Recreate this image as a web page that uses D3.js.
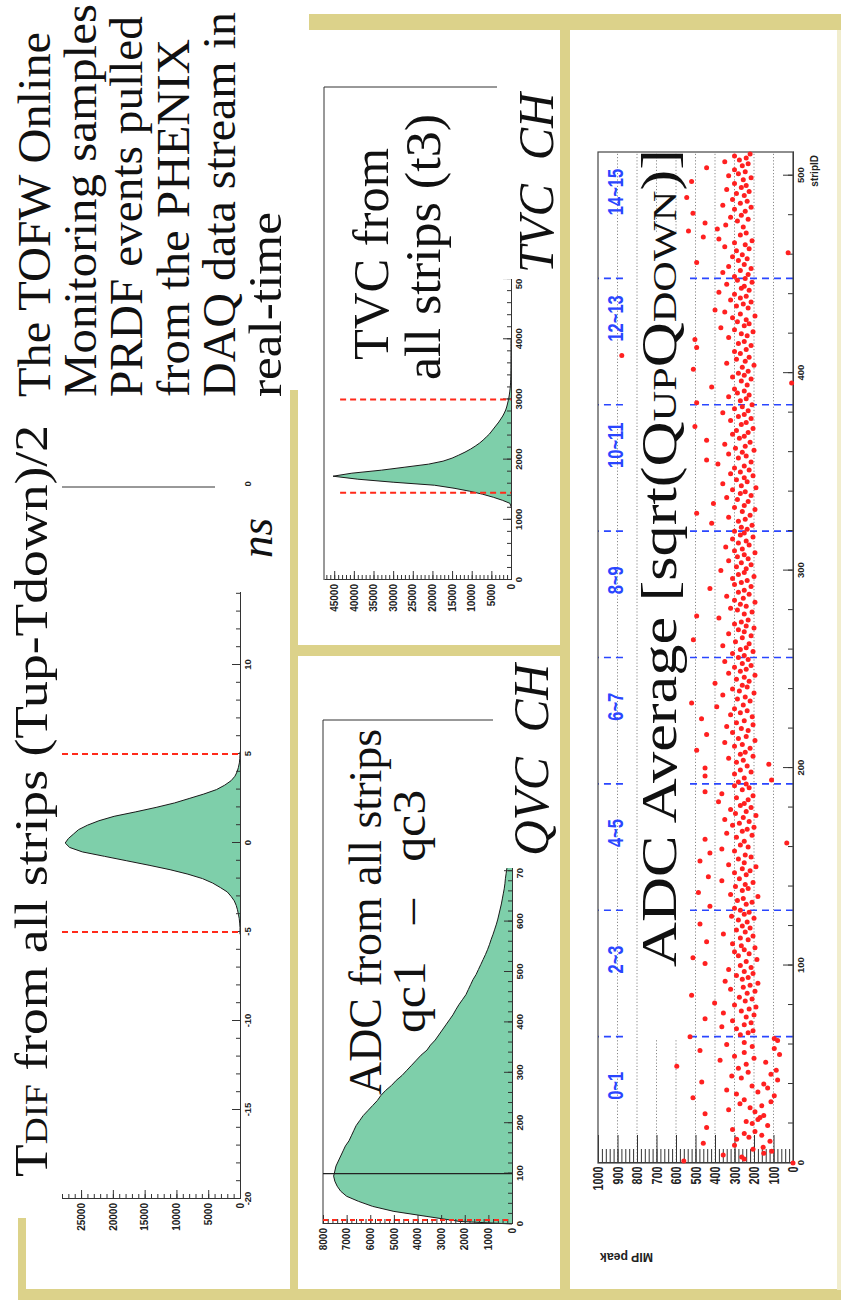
<!DOCTYPE html>
<html><head><meta charset="utf-8">
<script src="https://cdn.jsdelivr.net/npm/d3@7"></script>
<style>body{margin:0;background:#fff}svg{display:block}</style>
</head><body>
<svg id="c" width="841" height="1300"></svg>
<script>
// ================= DATA =================
const introLines = ["The TOFW Online","Monitoring samples","PRDF events pulled","from the PHENIX","DAQ data stream in","real-time"];

// T_DIF histogram (ns), bin centres, width 0.25
const tdifCenters = [-5,-4.75,-4.5,-4.25,-4,-3.75,-3.5,-3.25,-3,-2.75,-2.5,-2.25,-2,-1.75,-1.5,-1.25,-1,-0.75,-0.5,-0.25,0,0.25,0.5,0.75,1,1.25,1.5,1.75,2,2.25,2.5,2.75,3,3.25,3.5,3.75,4,4.25,4.5,4.75,5];
const tdifCounts  = [0,0,50,120,250,400,600,900,1400,2000,3100,4300,5900,8200,11000,14300,17800,21300,24800,26800,27500,27000,26200,25400,24000,22200,19800,16400,13200,10300,8000,5700,3700,2400,1400,800,450,250,100,30,0];
const tdifTicks = [-20,-15,-10,-5,0,5,10,15,20];
const tdifCountTicks = [0,5000,10000,15000,20000,25000];
const tdifCuts = [-5,5];

// TVC histogram, bin left edges, width 50
const tvcEdges = [1200,1250,1300,1350,1400,1450,1500,1550,1600,1650,1700,1750,1800,1850,1900,1950,2000,2050,2100,2150,2200,2250,2300,2350,2400,2450,2500,2550,2600,2650,2700,2750,2800,2850,2900,2950,3000,3050,3100,3150,3200,3250,3300,3350,3400,3450,3500,3550,3600,3650,3700,3750,3800,3850,3900,3950];
const tvcCounts = [0,300,2200,4500,7200,10500,14500,19500,30000,39000,45300,40500,33000,27000,21000,17300,15000,13300,11700,10300,9100,8000,7100,6300,5500,4900,4300,3700,3100,2600,2100,1700,1350,1100,900,720,560,430,320,230,160,110,80,60,45,35,25,20,16,13,10,8,6,5,4,3];
const tvcTicks = [0,1000,2000,3000,4000,5000,6000,7000,8000];
const tvcCountTicks = [0,5000,10000,15000,20000,25000,30000,35000,40000,45000];
const tvcCuts = [1450,3000];

// ADC histogram (qc1 - qc3), bins of 10 starting at 0
const adcCounts = [2200,3600,5000,5900,6500,7000,7250,7400,7500,7550,7500,7450,7350,7250,7150,7050,6900,6800,6700,6600,6450,6300,6100,5900,5700,5550,5350,5100,4900,4650,4450,4250,4050,3850,3600,3450,3250,3100,2950,2800,2650,2500,2380,2250,2100,1950,1850,1750,1650,1520,1420,1320,1220,1120,1030,950,880,800,730,660,600,550,500,450,410,370,330,300,280,250,220,200,185,170,155,140,130,120,110,100,92,85,78,72,66,60,55,50,46,42,38,35,32,29,26,24,22,20,18,16];
const adcTicks = [0,100,200,300,400,500,600,700,800,900,1000];
const adcCountTicks = [0,1000,2000,3000,4000,5000,6000,7000,8000];
const adcPedestal = 100;
const adcCut = 8;

// ADC average (MIP peak) per strip, strips 0..511
const mipPeak = [
0,560,250,263,358,150,109,205,153,300,460,118,289,226,160,250,
195,310,443,130,209,240,180,169,150,451,195,330,220,160,272,113,
250,513,96,290,180,340,130,210,150,468,79,265,314,113,230,86,
280,596,240,140,374,200,300,69,250,477,96,209,340,250,79,96,
528,270,230,205,290,365,250,215,310,451,240,200,357,265,225,190,
300,402,245,210,275,520,235,195,320,255,220,180,348,260,230,290,
205,250,330,215,270,451,240,185,513,280,225,300,250,195,265,310,
443,230,270,205,357,245,290,220,260,477,235,280,200,315,250,225,
270,300,426,240,210,285,255,180,320,485,260,230,295,245,205,365,
275,434,240,300,220,260,190,330,250,477,280,215,245,426,300,365,
230,270,32,250,451,290,210,340,260,235,200,310,275,225,350,255,
190,295,240,320,215,270,250,382,230,290,205,365,451,260,225,300,
240,280,110,250,451,300,215,270,451,235,124,290,255,330,205,270,
245,494,220,300,260,350,195,280,240,443,310,230,265,340,205,290,
250,469,209,320,270,235,300,391,255,520,220,285,245,360,200,275,
310,235,260,400,225,290,250,195,330,270,240,300,215,260,350,230,
280,250,310,205,270,240,360,225,295,511,260,215,330,250,280,200,
240,300,265,230,380,494,250,210,285,320,240,270,195,300,255,340,
225,280,250,426,215,300,265,235,310,200,280,250,370,240,290,215,
265,330,230,285,250,195,300,260,345,225,280,240,310,205,270,250,
300,235,265,210,417,280,245,330,220,494,260,195,300,250,408,230,
285,340,215,270,245,310,190,265,360,235,290,250,205,320,270,225,
300,250,385,215,443,280,240,330,260,200,295,245,350,220,443,275,
250,310,230,290,205,503,265,240,320,215,280,250,360,230,300,260,
210,494,270,240,330,225,285,250,300,417,235,7,265,215,310,250,
280,230,511,260,200,340,245,290,225,878,270,300,240,494,215,280,
250,503,330,235,265,205,300,370,250,225,285,240,310,195,270,350,
400,230,290,255,215,320,270,240,300,380,225,265,250,340,210,285,
245,300,230,360,270,215,330,250,494,280,235,310,260,25,290,225,
350,245,300,210,380,460,270,240,536,388,255,345,451,285,230,320,
265,513,245,300,215,360,270,235,310,545,250,290,225,340,265,240,
300,520,255,215,330,280,245,300,443,260,230,350,275,240,300,220];
const stripTicks = [0,100,200,300,400,500];
const mipTicks = [0,100,200,300,400,500,600,700,800,900,1000];
const groupBounds = [64,128,192,256,320,384,448];
const groupStarts = [32,96,160,224,288,352,416,480];
const groupLabels = ["0~1","2~3","4~5","6~7","8~9","10~11","12~13","14~15"];

// ================= DRAWING =================
const svg = d3.select('#c');
const GOLD = '#DCD28A', GREEN = '#7ECFAA', RED = '#ff2a1a', BLUE = '#2a46ff';
const SERIF = 'Liberation Serif, Times New Roman, serif';
const SANS = 'Liberation Sans, Arial, sans-serif';
const rotated = p => p.append('g').attr('transform','translate(0,1300) rotate(-90)');

const Lbg = svg.append('g');
const Lchart = rotated(svg);
const Lmask = svg.append('g');
const Ltext = rotated(svg);

// gold frame bars (slide decoration, page coordinates)
[[309,14,532,16],[560,14,10,1280],[290,390,8,905],[290,645,280,11],[18,1218,8,81],[18,1289,823,11]]
  .forEach(r=>Lbg.append('rect').attr('x',r[0]).attr('y',r[1]).attr('width',r[2]).attr('height',r[3]).attr('fill',GOLD));
Lbg.append('rect').attr('x',837).attr('y',30).attr('width',4).attr('height',1260).attr('fill','#F1EDCD');

const plain = d => (d<0?'-'+Math.abs(d):String(d));
function axis(g, gen, tr, fs){
  const a = g.append('g').attr('transform',tr).call(gen.tickFormat(plain));
  a.attr('font-family',SANS).attr('font-weight','bold').attr('font-size',fs);
  a.selectAll('text').attr('fill','#222');
  a.selectAll('line').attr('stroke','#333');
  a.select('.domain').attr('stroke','#333');
  return a;
}
function minor(g, gen, tr){
  const a = g.append('g').attr('transform',tr).call(gen.tickFormat(''));
  a.select('.domain').remove();
  a.selectAll('line').attr('stroke','#333');
}
// histogram drawn as a polyline through the bin centres, filled to the axis
function hist(g, xs, ys, centers, w, counts){
  const pts=[[centers[0]-w/2,0]];
  centers.forEach((c,i)=>pts.push([c,counts[i]]));
  pts.push([centers[centers.length-1]+w/2,0]);
  g.append('path').attr('d',d3.area().x(d=>xs(d[0])).y0(ys(0)).y1(d=>ys(d[1]))(pts)).attr('fill',GREEN);
  g.append('path').attr('d',d3.line().x(d=>xs(d[0])).y(d=>ys(d[1]))(pts)).attr('fill','none').attr('stroke','#1a1a1a').attr('stroke-width',1);
}
function vline(g,u,v0,v1,stroke,width,dash){
  const l=g.append('line').attr('x1',u).attr('x2',u).attr('y1',v0).attr('y2',v1).attr('stroke',stroke).attr('stroke-width',width);
  if(dash) l.attr('stroke-dasharray',dash);
}
function hline(g,v,u0,u1,stroke,width,dash){
  const l=g.append('line').attr('x1',u0).attr('x2',u1).attr('y1',v).attr('y2',v).attr('stroke',stroke).attr('stroke-width',width);
  if(dash) l.attr('stroke-dasharray',dash);
}

// ---------- T_DIF ----------
{
  const xs = d3.scaleLinear([-20,20],[101,813]);
  const ys = d3.scaleLinear([0,28000],[240,62]);
  const g = Lchart.append('g');
  hist(g, xs, ys, tdifCenters, 0.25, tdifCounts);
  minor(g, d3.axisBottom(xs).tickValues(d3.range(-20,21,1)).tickSize(-4), 'translate(0,240)');
  axis(g, d3.axisBottom(xs).tickValues(tdifTicks).tickSizeInner(-8).tickSizeOuter(0).tickPadding(4), 'translate(0,240)', 9.5);
  minor(g, d3.axisLeft(ys).tickValues(d3.range(0,28001,1000)).tickSize(-5), `translate(${xs(-20)},0)`);
  axis(g, d3.axisLeft(ys).tickValues(tdifCountTicks).tickSizeInner(-9).tickSizeOuter(0).tickPadding(4), `translate(${xs(-20)},0)`, 10);
  vline(g, xs(20), ys(28000), ys(0), '#333', 1);
  tdifCuts.forEach(c=>vline(g, xs(c), ys(28000), ys(0), RED, 2, '6,4'));
}
// ---------- TVC ----------
{
  const xs = d3.scaleLinear([0,8192],[720,1213]);
  const ys = d3.scaleLinear([0,47600],[511,324]);
  const g = Lchart.append('g');
  hist(g, xs, ys, tvcEdges.map(e=>e+25), 50, tvcCounts);
  minor(g, d3.axisBottom(xs).tickValues(d3.range(0,8192,200)).tickSize(-4), 'translate(0,511)');
  axis(g, d3.axisBottom(xs).tickValues(tvcTicks).tickSizeInner(-8).tickSizeOuter(0).tickPadding(4), 'translate(0,511)', 9.5);
  minor(g, d3.axisLeft(ys).tickValues(d3.range(0,47001,1000)).tickSize(-5), `translate(${xs(0)},0)`);
  axis(g, d3.axisLeft(ys).tickValues(tvcCountTicks).tickSizeInner(-9).tickSizeOuter(0).tickPadding(4), `translate(${xs(0)},0)`, 10);
  hline(g, ys(47600), xs(0), xs(8192), '#333', 1);
  vline(g, xs(8192), ys(47600), ys(0), '#333', 1);
  tvcCuts.forEach(c=>vline(g, xs(c), ys(43500), ys(0), RED, 2, '6,4'));
}
// ---------- ADC ----------
{
  const xs = d3.scaleLinear([0,1000],[76,580]);
  const ys = d3.scaleLinear([0,8000],[512,323]);
  const g = Lchart.append('g');
  hist(g, xs, ys, d3.range(5,1000,10), 10, adcCounts);
  minor(g, d3.axisBottom(xs).tickValues(d3.range(0,1001,20)).tickSize(-4), 'translate(0,512)');
  axis(g, d3.axisBottom(xs).tickValues(adcTicks).tickSizeInner(-8).tickSizeOuter(0).tickPadding(4), 'translate(0,512)', 9.5);
  minor(g, d3.axisLeft(ys).tickValues(d3.range(0,8001,200)).tickSize(-5), `translate(${xs(0)},0)`);
  axis(g, d3.axisLeft(ys).tickValues(adcCountTicks).tickSizeInner(-9).tickSizeOuter(0).tickPadding(4), `translate(${xs(0)},0)`, 10);
  hline(g, ys(8000), xs(0), xs(1000), '#333', 1);
  vline(g, xs(1000), ys(8000), ys(0), '#333', 1);
  vline(g, xs(adcPedestal), ys(8000), ys(0), '#222', 1.3);
  vline(g, xs(adcCut), ys(8000), ys(0), RED, 2, '5,4');
}
// ---------- ADC average scatter ----------
const xsS = d3.scaleLinear([0,512],[137,1148]);
const ysS = d3.scaleLinear([0,1000],[793,598]);
{
  const g = Lchart.append('g');
  mipTicks.filter(m=>m>0&&m<1000).forEach(m=>hline(g, ysS(m), xsS(0), xsS(512), '#8a8a8a', 1, '1.2,2'));
  groupBounds.forEach(b=>{
    vline(g, xsS(b), ysS(0), ysS(538), BLUE, 1.6, '7,5');
    vline(g, xsS(b), ysS(872), ysS(1000), BLUE, 1.6, '7,5');
  });
  minor(g, d3.axisBottom(xsS).tickValues(d3.range(0,512,20)).tickSize(-5), `translate(0,${ysS(0)})`);
  axis(g, d3.axisBottom(xsS).tickValues(stripTicks).tickSizeInner(-10).tickSizeOuter(0).tickPadding(4), `translate(0,${ysS(0)})`, 9.5);
  minor(g, d3.axisLeft(ysS).tickValues(d3.range(0,1001,20)).tickSize(-14), `translate(${xsS(0)},0)`);
  const ay = axis(g, d3.axisLeft(ysS).tickValues(mipTicks).tickSizeInner(-28).tickSizeOuter(0).tickPadding(5), `translate(${xsS(0)},0)`, 15);
  ay.selectAll('text').attr('transform','scale(0.72,1)');
  g.append('rect').attr('x',xsS(0)).attr('y',ysS(1000)).attr('width',xsS(512)-xsS(0)).attr('height',ysS(0)-ysS(1000))
    .attr('fill','none').attr('stroke','#444').attr('stroke-width',1.2);
}

// ---------- masks (white text boxes on the slide) ----------
[[215,486,75,106],[497,78,63,201],[493,656,67,212],[645,232,43,808]]
  .forEach(r=>Lmask.append('rect').attr('x',r[0]).attr('y',r[1]).attr('width',r[2]).attr('height',r[3]).attr('fill','#fff'));

// scatter dots on top
Ltext.append('g').selectAll('circle').data(mipPeak).join('circle')
  .attr('cx',(d,i)=>xsS(i)).attr('cy',d=>ysS(d)).attr('r',2.5).attr('fill','#ff2020');

// blue group labels
groupLabels.forEach((t,i)=>{
  Ltext.append('g').attr('transform',`translate(${xsS(groupStarts[i])},623) scale(0.75,1)`)
    .append('text').text(t).attr('font-family',SANS).attr('font-weight','bold').attr('font-size',22).attr('fill',BLUE);
});
Ltext.append('text').text('stripID').attr('x',1145).attr('y',818).attr('text-anchor','end')
  .attr('font-family',SANS).attr('font-weight','bold').attr('font-size',10).attr('fill','#222');
Ltext.append('text').text('MIP peak').attr('transform','translate(47,600) rotate(-90)').attr('text-anchor','end')
  .attr('font-family',SANS).attr('font-weight','bold').attr('font-size',12).attr('textLength',53).attr('lengthAdjust','spacingAndGlyphs').attr('fill','#222');

// ---------- big serif texts ----------
function bigText(str, u, v, len, fs, italic){
  const t = Ltext.append('text').attr('x',u).attr('y',v).attr('font-family',SERIF).attr('font-size',fs).attr('fill','#111')
    .attr('textLength',len).attr('lengthAdjust','spacingAndGlyphs');
  if(italic) t.attr('font-style','italic');
  if(typeof str==='string') t.text(str);
  else str.forEach(p=>t.append('tspan').text(p[0]).attr('font-size',p[1]));
  return t;
}
const introBase = [50,96,142,189,235,281];
const introLen = [365,393,381,358,385,185];
introLines.forEach((s,i)=>bigText(s, 903, introBase[i], introLen[i], 46));

bigText([["T",46],["DIF",32],[" from all strips (Tup-Tdown)/2",46]], 123, 47, 752, 46);
bigText("ns", 742, 272, 40, 46, true);
bigText("TVC from", 940, 388, 212, 50);
bigText("all strips (t3)", 920, 440, 266, 50);
bigText("TVC\u00a0\u00a0CH", 1027, 553, 180, 50, true);
bigText("ADC from all strips", 205, 381, 366, 46);
bigText("qc1\u00a0\u00a0\u00a0\u2013\u00a0\u00a0\u00a0qc3", 267, 425, 243, 46);
bigText("QVC\u00a0\u00a0CH", 444, 548, 192, 50, true);
bigText([["ADC Average [sqrt(Q",50],["UP",34],["Q",50],["DOWN",34],[")]",50]], 333, 676, 818, 50);
</script>
</body></html>
